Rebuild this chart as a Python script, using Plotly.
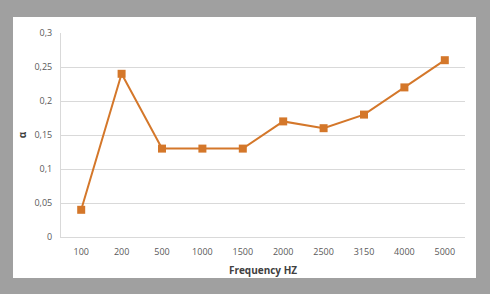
import plotly.graph_objects as go

categories = ["100", "200", "500", "1000", "1500", "2000", "2500", "3150", "4000", "5000"]
alpha_values = [0.04, 0.24, 0.13, 0.13, 0.13, 0.17, 0.16, 0.18, 0.22, 0.26]
y_tick_vals = [0, 0.05, 0.1, 0.15, 0.2, 0.25, 0.3]
y_tick_text = ["0", "0,05", "0,1", "0,15", "0,2", "0,25", "0,3"]

orange = "#d4772a"
text_col = "#595959"
font_family = "Open Sans, Liberation Sans, sans-serif"

fig = go.Figure()
fig.add_trace(go.Scatter(
    x=categories, y=alpha_values, mode="lines+markers",
    line=dict(color=orange, width=2),
    marker=dict(symbol="square", size=8, color=orange),
    showlegend=False,
))

L, R, T, B = 61, 25, 33, 57
W, H = 490, 294
pw, ph = W - L - R, H - T - B

def px(x):
    return (x - L) / pw

def py(y):
    return (H - B - y) / ph

fig.add_shape(type="rect", xref="paper", yref="paper",
              x0=px(13), x1=px(476), y0=py(278), y1=py(17),
              fillcolor="white", line=dict(width=0), layer="below")

fig.update_layout(
    width=W, height=H,
    margin=dict(l=L, r=R, t=T, b=B),
    paper_bgcolor="#a0a0a0",
    plot_bgcolor="white",
    font=dict(family=font_family, size=9, color=text_col),
    xaxis=dict(
        type="category", range=[-0.5, 9.5],
        showgrid=False, showline=True, linecolor="#d9d9d9", linewidth=1,
        ticks="", ticklabelstandoff=6, tickfont=dict(size=9, color=text_col),
        title=dict(text="<b>Frequency HZ</b>", font=dict(size=10, color="#404040"), standoff=10),
    ),
    yaxis=dict(
        range=[0, 0.3], tickvals=y_tick_vals, ticktext=y_tick_text,
        showgrid=True, gridcolor="#d9d9d9", gridwidth=1,
        zeroline=False, showline=True, linecolor="#d9d9d9", linewidth=1,
        ticks="", ticklabelstandoff=6,
        tickfont=dict(size=9, color=text_col),
        title=dict(text="<b>α</b>", font=dict(size=10, color="#404040"), standoff=5),
    ),
)

fig.write_html("out.html")
